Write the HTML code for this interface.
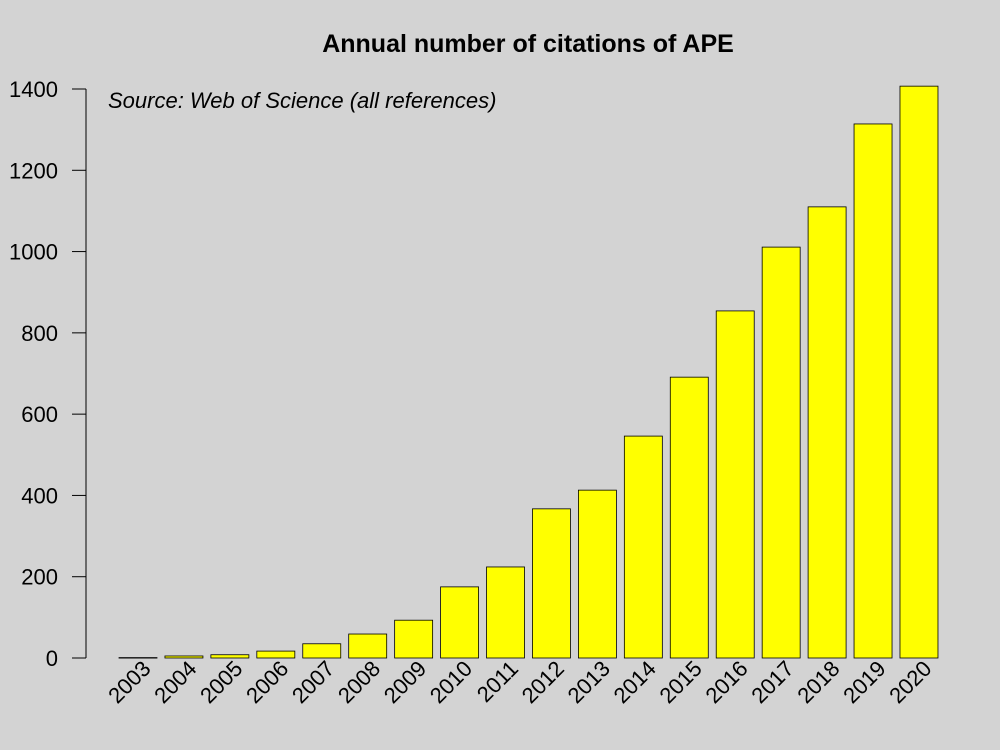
<!DOCTYPE html>
<html><head><meta charset="utf-8"><style>
body{margin:0;background:#d3d3d3}
svg{display:block;font-family:"Liberation Sans",sans-serif}
</style></head><body>
<svg width="1000" height="750" viewBox="0 0 1000 750">
<rect width="1000" height="750" fill="#d3d3d3"/>
<text x="528" y="52" text-anchor="middle" font-size="25" font-weight="bold">Annual number of citations of APE</text>
<text x="108" y="108" font-size="22" font-style="italic">Source: Web of Science (all references)</text>
<g id="axis"></g>
<g id="bars"></g>
<g id="xlabels"></g>
</svg>
<script>
const years = ["2003","2004","2005","2006","2007","2008","2009","2010","2011","2012","2013","2014","2015","2016","2017","2018","2019","2020"];
const citations = [1,5,8,17,35,59,93,175,224,367,413,546,691,854,1011,1110,1314,1407];
const yTicks = [0,200,400,600,800,1000,1200,1400];
const NS="http://www.w3.org/2000/svg";
const y0=658, y1400=89;
const yScale=v=>y0-(v/1400)*(y0-y89());
function y89(){return y1400;}
const xStart=119, step=45.94, bw=38;
const xScale=i=>xStart+i*step;
const axis=document.getElementById('axis'), bars=document.getElementById('bars'), xl=document.getElementById('xlabels');
function mk(t,a){const e=document.createElementNS(NS,t);for(const k in a)e.setAttribute(k,a[k]);return e;}
const al=mk('line',{x1:86,x2:86,y1:yScale(0),y2:yScale(1400),stroke:'#000','stroke-width':1});


axis.appendChild(al);
yTicks.forEach(v=>{
  const t=mk('line',{x1:72,x2:86,y1:yScale(v),y2:yScale(v),stroke:'#000'});
  
  
  axis.appendChild(t);
  const tx=mk('text',{x:58,y:yScale(v)+8,'text-anchor':'end','font-size':22});
  tx.textContent=v;
  
  
  axis.appendChild(tx);
});
years.forEach((yr,i)=>{
  const x=xScale(i), h=yScale(0)-yScale(citations[i]);
  const r=mk('rect',{x:x,y:yScale(citations[i]),width:bw,height:Math.max(h,0.5),fill:'#ffff00',stroke:'#000','stroke-width':0.8});
  
  
  bars.appendChild(r);
  const cx=x+bw/2+14, cy=670;
  const t=mk('text',{x:cx,y:cy,'text-anchor':'end','font-size':22,transform:`rotate(-45 ${cx} ${cy})`});
  t.textContent=yr;
  
  
  xl.appendChild(t);
});
</script>
</body></html>
